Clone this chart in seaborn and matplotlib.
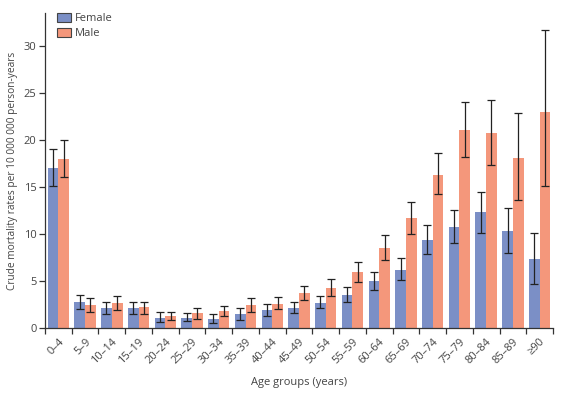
import numpy as np
import pandas as pd
import matplotlib
matplotlib.use("Agg")
import matplotlib.pyplot as plt
import seaborn as sns

age_groups = ["0–4", "5–9", "10–14", "15–19", "20–24", "25–29", "30–34", "35–39",
              "40–44", "45–49", "50–54", "55–59", "60–64", "65–69", "70–74", "75–79",
              "80–84", "85–89", "≥90"]
female = [17.0, 2.75, 2.1, 2.1, 1.1, 1.1, 1.0, 1.45, 1.9, 2.1, 2.7, 3.5, 5.0, 6.2, 9.4, 10.7, 12.3, 10.3, 7.3]
female_lo = [15.1, 2.05, 1.5, 1.5, 0.65, 0.7, 0.55, 0.9, 1.3, 1.55, 2.1, 2.8, 4.0, 5.1, 7.9, 9.0, 10.1, 8.0, 4.7]
female_hi = [19.0, 3.5, 2.8, 2.8, 1.65, 1.6, 1.45, 2.1, 2.5, 2.75, 3.4, 4.35, 6.0, 7.4, 10.9, 12.5, 14.5, 12.8, 10.1]
male = [18.0, 2.45, 2.65, 2.2, 1.3, 1.55, 1.8, 2.4, 2.6, 3.7, 4.3, 5.9, 8.5, 11.7, 16.3, 21.0, 20.7, 18.05, 23.0]
male_lo = [16.1, 1.7, 1.95, 1.5, 0.8, 1.0, 1.3, 1.7, 2.0, 3.0, 3.4, 4.9, 7.2, 10.0, 14.2, 18.2, 17.3, 13.6, 15.1]
male_hi = [19.95, 3.15, 3.35, 2.8, 1.75, 2.1, 2.3, 3.15, 3.3, 4.5, 5.2, 7.0, 9.9, 13.4, 18.6, 24.0, 24.25, 22.9, 31.7]

df = pd.DataFrame({
    "age": age_groups * 2,
    "rate": female + male,
    "lo": female_lo + male_lo,
    "hi": female_hi + male_hi,
    "sex": ["Female"] * len(age_groups) + ["Male"] * len(age_groups),
})

sns.set_theme(style="ticks")
plt.rcParams["font.family"] = ["Open Sans", "DejaVu Sans"]

text_col = "#444444"
spine_col = "#333333"
colors = {"Female": "#7b8fc6", "Male": "#f4977b"}

fig = plt.figure(figsize=(5.66, 3.94), dpi=100)
ax = fig.add_axes([0.0795, 0.1675, 0.8975, 0.80])

sns.barplot(data=df, x="age", y="rate", hue="sex", palette=colors, order=age_groups,
            hue_order=["Female", "Male"], errorbar=None, width=0.8, linewidth=0,
            saturation=1, ax=ax)

# error bars at bar centres
bars = [p for p in ax.patches if p.get_height() > 0][:2 * len(age_groups)]
for sex_i, sex in enumerate(["Female", "Male"]):
    sub = df[df["sex"] == sex]
    xs = [b.get_x() + b.get_width() / 2 for b in bars[sex_i * len(age_groups):(sex_i + 1) * len(age_groups)]]
    ys = sub["rate"].to_numpy()
    yerr = np.vstack([ys - sub["lo"].to_numpy(), sub["hi"].to_numpy() - ys])
    ax.errorbar(xs, ys, yerr=yerr, fmt="none", ecolor="#222222", elinewidth=0.9,
                capsize=2.8, capthick=0.9, zorder=5)

ax.set_xlim(-0.5, len(age_groups) - 0.5)
ax.set_ylim(0, 33.5)
ax.set_yticks([0, 5, 10, 15, 20, 25, 30])
ax.set_xticks(range(len(age_groups)))
ax.set_xticklabels(age_groups, rotation=45, ha="right", rotation_mode="anchor")
ax.set_xticks(np.arange(-0.5, len(age_groups)), minor=True)
ax.tick_params(axis="x", which="major", length=0, labelsize=8, labelcolor=text_col, pad=6)
ax.tick_params(axis="x", which="minor", length=4, width=0.9, color=spine_col)
ax.tick_params(axis="y", length=4, width=0.9, color=spine_col, labelsize=8, labelcolor=text_col, pad=2)

sns.despine(ax=ax)
for s in ["left", "bottom"]:
    ax.spines[s].set_color(spine_col)
    ax.spines[s].set_linewidth(0.9)

ax.set_xlabel("Age groups (years)", fontsize=8, color=text_col, labelpad=8)
ax.set_ylabel("Crude mortality rates per 10 000 000 person-years", fontsize=7.3, color=text_col, labelpad=4)

leg = ax.legend(loc="upper left", bbox_to_anchor=(0.004, 1.03), frameon=False, fontsize=8,
                handlelength=1.25, handleheight=0.8, handletextpad=0.4, labelspacing=0.35,
                labelcolor=text_col)
for h in leg.legend_handles:
    h.set_edgecolor("#444444")
    h.set_linewidth(0.8)

fig.savefig("out.png", dpi=100)
